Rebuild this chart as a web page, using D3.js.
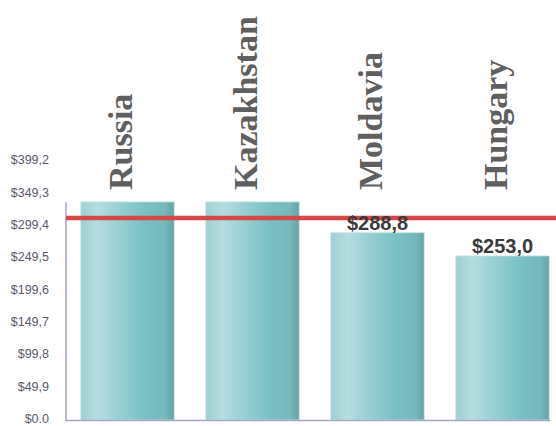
<!DOCTYPE html>
<html><head><meta charset="utf-8">
<script src="https://cdn.jsdelivr.net/npm/d3@7"></script>
<style>body{margin:0;background:#fff}svg{display:block}</style>
</head><body>
<svg id="c" width="556" height="426"></svg>
<script>
const categories = ["Russia", "Kazakhstan", "Moldavia", "Hungary"];
const values = [336.3, 336.3, 288.8, 253.0];
const valueLabels = [null, null, "$288,8", "$253,0"];
const tickValues = [0, 49.9, 99.8, 149.7, 199.6, 249.5, 299.4, 349.3, 399.2];
const tickLabels = ["$0.0", "$49,9", "$99,8", "$149,7", "$199,6", "$249,5", "$299,4", "$349,3", "$399,2"];
const referenceValue = 311.5;

const svg = d3.select("#c");
const x = d3.scaleBand().domain(categories).range([65, 565]).paddingInner(0.253).paddingOuter(0.1265);
const y = d3.scaleLinear().domain([0, 399.2]).range([420, 161.15]);

const defs = svg.append("defs");
const g = defs.append("linearGradient").attr("id", "bg").attr("x1", "0").attr("x2", "1").attr("y1", "0").attr("y2", "0");
[[0, "#9fd0d3"], [0.18, "#b5dde0"], [0.45, "#93cdd0"], [0.7, "#78c0c5"], [0.9, "#76b8bc"], [1, "#64a3a6"]]
  .forEach(([o, c]) => g.append("stop").attr("offset", o).attr("stop-color", c));

// bars
svg.append("g").selectAll("rect").data(categories).join("rect")
  .attr("x", d => x(d))
  .attr("y", (d, i) => y(values[i]))
  .attr("width", x.bandwidth())
  .attr("height", (d, i) => y(0) - y(values[i]))
  .attr("fill", "url(#bg)")
  .attr("stroke", "#c4e4e6").attr("stroke-width", 0.8);

// axes lines
svg.append("line").attr("x1", 66).attr("x2", 66).attr("y1", y(values[0])).attr("y2", 420.5)
  .attr("stroke", "#a6a6c6").attr("stroke-width", 1.5);
svg.append("line").attr("x1", 65).attr("x2", 550).attr("y1", 420.5).attr("y2", 420.5)
  .attr("stroke", "#a6a6c6").attr("stroke-width", 1.5);

// y tick labels
const yAxis = d3.axisLeft(y).tickValues(tickValues).tickFormat((d, i) => tickLabels[i]).tickSize(0).tickPadding(0);
const ya = svg.append("g").attr("transform", "translate(49,-1.5)").call(yAxis);
ya.select(".domain").remove();
ya.selectAll("text").attr("font-family", "Liberation Sans, Arial, sans-serif").attr("font-size", 12.5).attr("fill", "#5a5a6a");

// reference line
svg.append("line").attr("x1", 66).attr("x2", 556).attr("y1", y(referenceValue)).attr("y2", y(referenceValue))
  .attr("stroke", "#d44848").attr("stroke-width", 4.5);

// value labels
svg.append("g").selectAll("text").data(categories.filter((d, i) => valueLabels[i])).join("text")
  .attr("x", d => x(d) + x.bandwidth() / 2)
  .attr("y", d => y(values[categories.indexOf(d)]) - 3)
  .attr("text-anchor", "middle")
  .attr("font-family", "Liberation Sans, Arial, sans-serif").attr("font-weight", "bold").attr("font-size", 20)
  .attr("fill", "#3a3a3a")
  .text(d => valueLabels[categories.indexOf(d)]);

// category labels (rotated)
svg.append("g").selectAll("text").data(categories).join("text")
  .attr("transform", d => `translate(${x(d) + x.bandwidth() / 2 + 4},190) rotate(-90)`)
  .attr("text-anchor", "start")
  .attr("font-family", "Liberation Serif, Times New Roman, serif").attr("font-weight", "bold").attr("font-size", 34)
  .attr("fill", "#5f5f5f")
  .text(d => d);
</script>
</body></html>
